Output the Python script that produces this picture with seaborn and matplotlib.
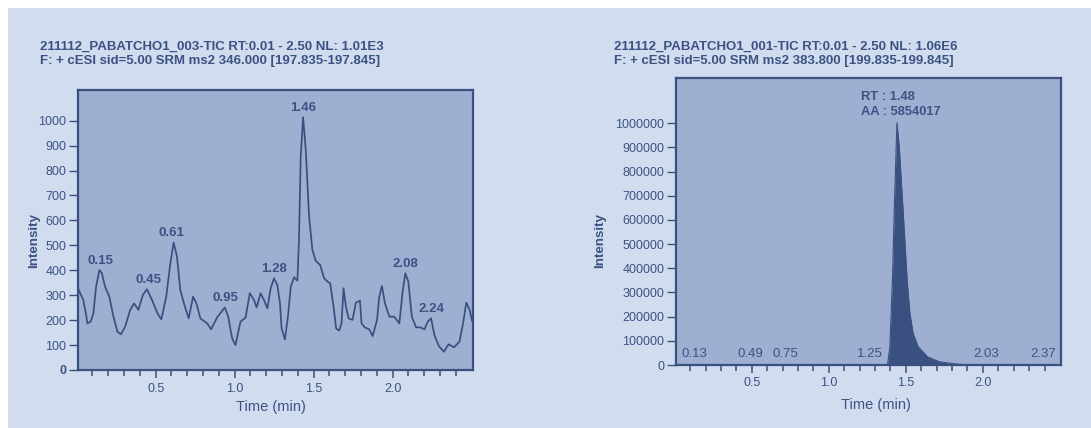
import numpy as np
import pandas as pd
import matplotlib
matplotlib.use("Agg")
import matplotlib.pyplot as plt
import seaborn as sns

# ---------------- data ----------------
# Left chromatogram (TIC 003)
left_time = [0.011, 0.042, 0.059, 0.068, 0.089, 0.106, 0.123, 0.144, 0.159, 0.180,
             0.207, 0.233, 0.258, 0.280, 0.307, 0.339, 0.364, 0.391, 0.419, 0.445,
             0.477, 0.512, 0.536, 0.567, 0.593, 0.614, 0.635, 0.656, 0.682, 0.709,
             0.737, 0.758, 0.783, 0.826, 0.851, 0.889, 0.938, 0.959, 0.984, 1.005,
             1.037, 1.069, 1.096, 1.122, 1.139, 1.164, 1.185, 1.207, 1.228, 1.249,
             1.270, 1.287, 1.297, 1.318, 1.337, 1.355, 1.376, 1.397, 1.407, 1.418,
             1.433, 1.450, 1.471, 1.492, 1.513, 1.541, 1.566, 1.588, 1.604, 1.626,
             1.642, 1.661, 1.676, 1.689, 1.704, 1.721, 1.746, 1.767, 1.793, 1.803,
             1.824, 1.852, 1.873, 1.901, 1.915, 1.932, 1.951, 1.979, 2.010, 2.042,
             2.064, 2.080, 2.099, 2.121, 2.148, 2.176, 2.201, 2.222, 2.243, 2.264,
             2.292, 2.324, 2.353, 2.388, 2.423, 2.445, 2.466, 2.487, 2.503]
left_intensity = [324, 281, 225, 187, 194, 227, 334, 401, 390, 334,
                  294, 214, 154, 143, 174, 241, 267, 241, 301, 324,
                  281, 227, 203, 294, 428, 511, 455, 321, 261, 207,
                  294, 267, 207, 187, 163, 211, 251, 214, 127, 100,
                  194, 210, 308, 281, 251, 308, 281, 247, 328, 368,
                  341, 267, 167, 123, 214, 334, 372, 358, 521, 856,
                  1014, 882, 615, 481, 438, 421, 368, 354, 348, 254,
                  167, 158, 187, 328, 254, 207, 201, 270, 278, 187,
                  171, 163, 136, 201, 294, 337, 267, 214, 214, 187,
                  321, 388, 354, 214, 171, 171, 163, 194, 207, 140,
                  96, 73, 103, 91, 114, 187, 270, 241, 195]
left_peak_labels = ["0.15", "0.45", "0.61", "0.95", "1.28", "1.46", "2.08", "2.24"]
left_peak_time = [0.152, 0.452, 0.600, 0.941, 1.249, 1.436, 2.081, 2.246]
left_peak_height = [401, 324, 511, 251, 368, 1014, 388, 207]

# Right chromatogram (TIC 001)
right_time = [0.010, 1.370, 1.381, 1.396, 1.413, 1.424, 1.442, 1.457, 1.483, 1.508,
              1.526, 1.547, 1.580, 1.640, 1.716, 1.813, 1.900, 2.500]
right_intensity = [0, 0, 0, 75700, 351700, 628000, 1002500, 903000, 628000, 351700,
                   213900, 131000, 75700, 34000, 13600, 5000, 0, 0]
right_base_labels = ["0.13", "0.49", "0.75", "1.25", "2.03", "2.37"]
right_base_time = [0.127, 0.493, 0.719, 1.265, 2.023, 2.389]
right_rt_label = "RT : 1.48\nAA : 5854017"
right_rt_time = 1.469
right_rt_height = 1002500

left_title = ("211112_PABATCHO1_003-TIC RT:0.01 - 2.50 NL: 1.01E3\n"
              "F: + cESI sid=5.00 SRM ms2 346.000 [197.835-197.845]")
right_title = ("211112_PABATCHO1_001-TIC RT:0.01 - 2.50 NL: 1.06E6\n"
               "F: + cESI sid=5.00 SRM ms2 383.800 [199.835-199.845]")

left_yticks = [0, 100, 200, 300, 400, 500, 600, 700, 800, 900, 1000]
right_yticks = [0, 100000, 200000, 300000, 400000, 500000, 600000, 700000,
                800000, 900000, 1000000]
x_major = [0.5, 1.0, 1.5, 2.0]
x_minor = [0.1, 0.2, 0.3, 0.4, 0.6, 0.7, 0.8, 0.9, 1.1, 1.2, 1.3, 1.4,
           1.6, 1.7, 1.8, 1.9, 2.1, 2.2, 2.3, 2.4]

# ---------------- style ----------------
BG = "#d1ddef"
FACE = "#9eafd2"
DARK = "#3a5081"
TXT = "#3b5283"

sns.set_theme(style="ticks")
plt.rcParams["font.family"] = ["Liberation Sans", "DejaVu Sans"]
plt.rcParams["text.color"] = TXT
plt.rcParams["axes.labelcolor"] = TXT
plt.rcParams["xtick.color"] = DARK
plt.rcParams["ytick.color"] = DARK

W, H = 1091, 428
fig = plt.figure(figsize=(W / 100, H / 100), dpi=100, facecolor="white")
# light blue panel (white sliver on top/left edge)
fig.patches.append(plt.Rectangle((8 / W, 0), 1, 1 - 8 / H, transform=fig.transFigure,
                                 facecolor=BG, edgecolor="none", zorder=-10))

def px_axes(x0, x1, ytop, ybot):
    return fig.add_axes([x0 / W, 1 - ybot / H, (x1 - x0) / W, (ybot - ytop) / H])

axL = px_axes(78.2, 472.5, 90, 370)
axR = px_axes(676.3, 1060.7, 77.7, 365)

def style_axes(ax):
    ax.set_facecolor(FACE)
    for s in ax.spines.values():
        s.set_color(DARK)
        s.set_linewidth(1.6)
    ax.set_xlim(0.01, 2.505)
    ax.set_xticks(x_major)
    ax.set_xticklabels(["0.5", "1.0", "1.5", "2.0"])
    ax.set_xticks(x_minor, minor=True)
    ax.tick_params(axis="x", which="major", length=6, width=1.1, pad=3,
                   labelsize=9, labelcolor=TXT, direction="out")
    ax.tick_params(axis="x", which="minor", length=4, width=1.1, direction="out")
    ax.tick_params(axis="y", which="major", length=6.3, width=1.0, pad=2.2,
                   labelsize=9, labelcolor=TXT, direction="out")
    ax.grid(False)

# ---- left panel ----
dfL = pd.DataFrame({"Time (min)": left_time, "Intensity": left_intensity})
sns.lineplot(data=dfL, x="Time (min)", y="Intensity", ax=axL, color=DARK,
             linewidth=1.25, estimator=None, sort=False,
             solid_joinstyle="round", solid_capstyle="round")
style_axes(axL)
axL.set_ylim(0, 1123)
axL.set_yticks(left_yticks)
axL.set_yticklabels([str(v) for v in left_yticks])
axL.get_yticklabels()[0].set_fontweight("bold")
for lab, t, h in zip(left_peak_labels, left_peak_time, left_peak_height):
    axL.annotate(lab, xy=(t, h), xytext=(0, 6.8), textcoords="offset points",
                 ha="center", va="center", fontsize=9.5, fontweight="bold", color=TXT)

# ---- right panel ----
dfR = pd.DataFrame({"Time (min)": right_time, "Intensity": right_intensity})
axR.fill_between(dfR["Time (min)"], 0, dfR["Intensity"], color=DARK, linewidth=0, zorder=2)
sns.lineplot(data=dfR, x="Time (min)", y="Intensity", ax=axR, color=DARK,
             linewidth=0.8, estimator=None, sort=False, zorder=3)
style_axes(axR)
axR.set_ylim(0, 1188700)
axR.set_yticks(right_yticks)
axR.set_yticklabels([str(v) for v in right_yticks])
for lab, t in zip(right_base_labels, right_base_time):
    axR.annotate(lab, xy=(t, 0), xytext=(0, 7.8), textcoords="offset points",
                 ha="center", va="center", fontsize=9.5, color=TXT)
axR.annotate(right_rt_label, xy=(right_rt_time, right_rt_height), xytext=(0, 3.5),
             textcoords="offset points", ha="center", va="bottom", multialignment="left",
             fontsize=9.3, fontweight="bold", color=TXT, linespacing=1.3)

# ---- labels ----
for ax, xc, yc, ylx, yly in [(axL, 0.489, -0.131, -0.113, 0.464),
                             (axR, 0.519, -0.139, -0.197, 0.435)]:
    ax.set_xlabel("Time (min)", fontsize=10.5, color=TXT)
    ax.xaxis.label.set_va("center")
    ax.xaxis.set_label_coords(xc, yc)
    ax.set_ylabel("Intensity", fontsize=9.6, fontweight="bold", color=TXT)
    ax.yaxis.label.set_va("center")
    ax.yaxis.set_label_coords(ylx, yly)

# ---- titles ----
fig.text(40 / W, 1 - 53.7 / H, left_title, ha="left", va="center", fontsize=9.5,
         fontweight="bold", color=TXT, linespacing=1.25)
fig.text(613.6 / W, 1 - 54.2 / H, right_title, ha="left", va="center", fontsize=9.5,
         fontweight="bold", color=TXT, linespacing=1.25)

fig.savefig("out.png", dpi=100, facecolor="white")
